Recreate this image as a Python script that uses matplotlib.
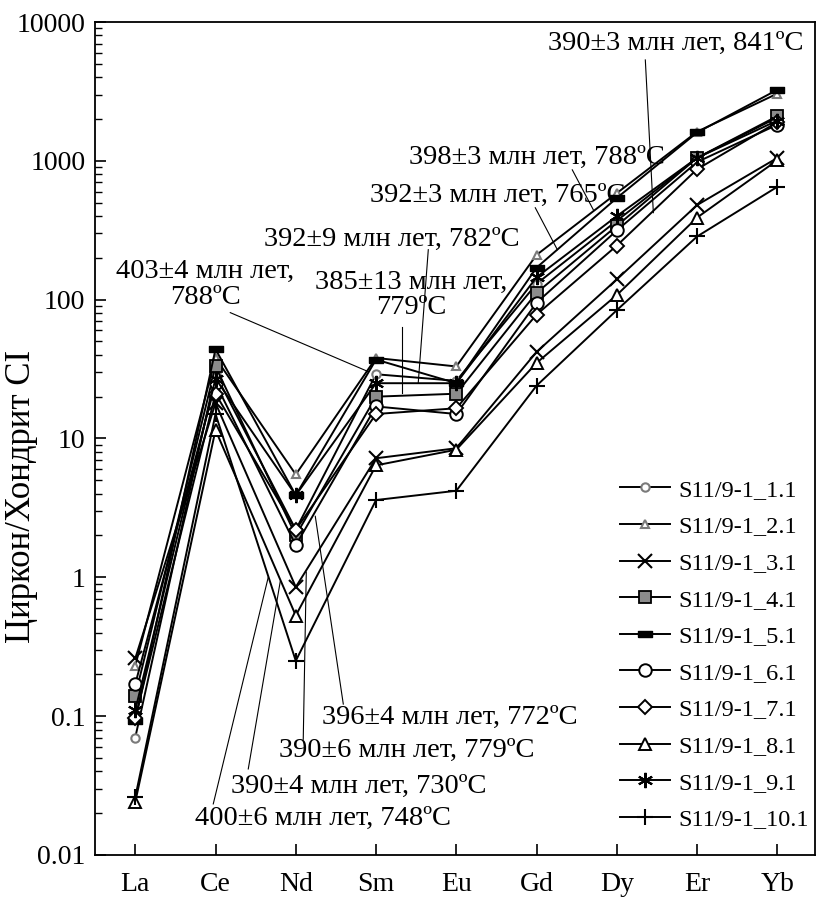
import numpy as np
import matplotlib.pyplot as plt
from matplotlib.path import Path
from matplotlib.ticker import LogLocator, NullFormatter, FixedLocator

plt.rcParams['font.family'] = ['Liberation Serif', 'DejaVu Serif']

# REE spectra of zircons, normalised to CI chondrite
elements = ['La', 'Ce', 'Nd', 'Sm', 'Eu', 'Gd', 'Dy', 'Er', 'Yb']

s1_1 = [0.07, 29, 2.2, 29, 26, 130, 370, 1050, 2050]
s2_1 = [0.23, 38, 5.5, 38, 33, 210, 585, 1620, 3050]
s3_1 = [0.26, 18, 0.85, 7.2, 8.5, 42, 140, 480, 1050]
s4_1 = [0.14, 33, 2.0, 20, 21, 112, 340, 1050, 2100]
s5_1 = [0.092, 44, 3.9, 37, 25, 170, 540, 1600, 3250]
s6_1 = [0.17, 25, 1.7, 17, 15, 95, 315, 980, 1820]
s7_1 = [0.097, 21, 2.2, 15, 16.5, 78, 245, 870, 1900]
s8_1 = [0.024, 11.5, 0.53, 6.4, 8.3, 35, 108, 390, 1010]
s9_1 = [0.11, 27, 3.9, 25, 25, 145, 400, 1050, 1950]
s10_1 = [0.026, 15, 0.25, 3.6, 4.2, 24, 84, 285, 650]

names = ['S11/9-1_1.1', 'S11/9-1_2.1', 'S11/9-1_3.1', 'S11/9-1_4.1', 'S11/9-1_5.1',
         'S11/9-1_6.1', 'S11/9-1_7.1', 'S11/9-1_8.1', 'S11/9-1_9.1', 'S11/9-1_10.1']
series = [s1_1, s2_1, s3_1, s4_1, s5_1, s6_1, s7_1, s8_1, s9_1, s10_1]

# ages and temperatures for the labels
labels = ['390±3 млн лет, 841ºC', '398±3 млн лет, 788ºC', '392±3 млн лет, 765ºC',
          '392±9 млн лет, 782ºC', '385±13 млн лет,\n779ºC', '403±4 млн лет,\n788ºC',
          '396±4 млн лет, 772ºC', '390±6 млн лет, 779ºC', '390±4 млн лет, 730ºC',
          '400±6 млн лет, 748ºC']

gray = '#7a7a7a'
bar = Path([(-1, -0.4), (1, -0.4), (1, 0.4), (-1, 0.4), (-1, -0.4)])
styles = [
    dict(marker='o', ms=6, mfc='white', mec=gray, mew=1.5),
    dict(marker='^', ms=6, mfc='white', mec=gray, mew=1.5),
    dict(marker='x', ms=10, mfc='none', mec='black', mew=1.5),
    dict(marker='s', ms=9, mfc='#8c8c8c', mec='black', mew=1.3),
    dict(marker=bar, ms=9.5, mfc='black', mec='black', mew=1),
    dict(marker='o', ms=9, mfc='white', mec='black', mew=1.4),
    dict(marker='D', ms=7, mfc='white', mec='black', mew=1.4),
    dict(marker='^', ms=9, mfc='white', mec='black', mew=1.4),
    dict(marker=(6, 2, 0), ms=11, mfc='none', mec='black', mew=1.5),
    dict(marker='+', ms=11, mfc='none', mec='black', mew=1.5),
]

# label placement (text x, y) and leader line (from, to), in data units
ann = [
    ((6.73, 7060), (6.355, 5330), (6.455, 423)),
    ((5.00, 1051), (5.445, 861), (5.707, 444)),
    ((4.52, 560), (4.984, 459), (5.259, 229)),
    ((3.20, 270), (3.651, 229), (3.526, 25.3)),
    ((3.44, 108), (3.327, 64), (3.327, 21.4)),
    ((0.87, 128), (1.184, 80.6), (2.903, 30.3)),
    ((3.92, 0.0985), (2.592, 0.122), (2.243, 2.75)),
    ((3.38, 0.0569), (2.093, 0.068), (2.131, 1.09)),
    ((2.78, 0.0313), (1.408, 0.0416), (1.807, 0.936)),
    ((2.34, 0.0182), (0.972, 0.0233), (1.657, 1.0)),
]

fig = plt.figure(figsize=(8.2, 8.98), dpi=100)
ax = fig.add_axes([0.116, 0.048, 0.878, 0.9275])

x = np.arange(len(elements))
for name, vals, st in zip(names, series, styles):
    ax.plot(x, vals, color='black', lw=1.4, label=name, **st)

for txt, ((tx, ty), p1, p2) in zip(labels, ann):
    ax.plot([p1[0], p2[0]], [p1[1], p2[1]], color='black', lw=0.8)
    ax.text(tx, ty, txt, fontsize=20.5, ha='center', va='center',
            multialignment='center', linespacing=1.05)

ax.set_yscale('log')
ax.set_ylim(0.01, 10000)
ax.set_xlim(-0.5, 8.47)
ax.set_xticks(x)
ax.set_xticklabels(elements, fontsize=20)
ax.yaxis.set_major_locator(FixedLocator([0.01, 0.1, 1, 10, 100, 1000, 10000]))
ax.set_yticklabels(['0.01', '0.1', '1', '10', '100', '1000', '10000'], fontsize=20)
ax.yaxis.set_minor_locator(LogLocator(base=10, subs=np.arange(2, 10)))
ax.yaxis.set_minor_formatter(NullFormatter())
ax.tick_params(axis='both', which='major', direction='in', length=8, width=1.2)
ax.tick_params(axis='x', which='major', pad=12)
ax.tick_params(axis='y', which='major', pad=7)
ax.tick_params(axis='y', which='minor', direction='in', length=5, width=1)
ax.set_ylabel('Циркон/Хондрит CI', fontsize=25)
ax.yaxis.set_label_coords(-0.079, 0.43)
for sp in ax.spines.values():
    sp.set_linewidth(1.3)

ax.legend(loc='lower right', bbox_to_anchor=(1.011, 0.012), frameon=False, fontsize=17.5,
          handlelength=2.05, handletextpad=0.33, labelspacing=0.6, borderaxespad=0.2)

fig.savefig('out.png', dpi=100)
